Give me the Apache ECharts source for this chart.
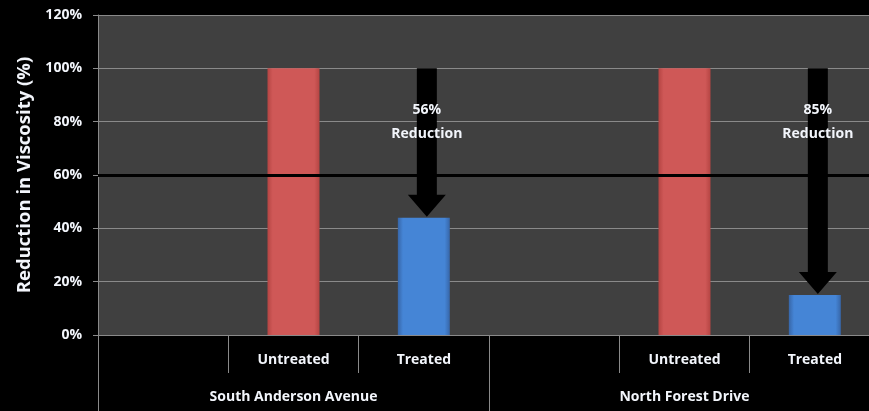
<!DOCTYPE html>
<html>
<head>
<meta charset="utf-8">
<script src="https://cdn.jsdelivr.net/npm/echarts@6/dist/echarts.min.js"></script>
<style>
html,body{margin:0;padding:0;background:#000;overflow:hidden;}
#chart{width:880px;height:411px;}
</style>
</head>
<body>
<div id="chart"></div>
<script>
var sites = ['South Anderson Avenue', 'North Forest Drive'];
var conditions = ['', 'Untreated', 'Treated'];
var untreatedValues = [100, 100];
var treatedValues = [44, 15];
var yTicks = [0, 20, 40, 60, 80, 100, 120];
var thresholdValue = 60;

var FONT = '"Open Sans", "Liberation Sans", sans-serif';
var TXT = '#f2f5fb';

var categories = [];
var barData = [];
var arrowData = [];
sites.forEach(function (s, i) {
  conditions.forEach(function (c) { categories.push(c); });
  barData.push(null);
  barData.push({ value: untreatedValues[i], itemStyle: { color: {
    type: 'linear', x: 0, y: 0, x2: 1, y2: 0,
    colorStops: [{offset:0,color:'#b54543'},{offset:0.1,color:'#cf5857'},{offset:0.9,color:'#cf5857'},{offset:1,color:'#b54543'}]
  } } });
  barData.push({ value: treatedValues[i], itemStyle: { color: {
    type: 'linear', x: 0, y: 0, x2: 1, y2: 0,
    colorStops: [{offset:0,color:'#3766a8'},{offset:0.1,color:'#4585d6'},{offset:0.9,color:'#4585d6'},{offset:1,color:'#3766a8'}]
  } } });
  arrowData.push([i * conditions.length + 2, untreatedValues[i], treatedValues[i],
    (untreatedValues[i] - treatedValues[i]) + '%\nReduction']);
});

var chart = echarts.init(document.getElementById('chart'));
chart.setOption({
  backgroundColor: '#000',
  animation: false,
  grid: { left: 98, right: 0, top: 15, bottom: 76, show: true, backgroundColor: '#404040', borderWidth: 0 },
  xAxis: [{
    type: 'category', data: categories, position: 'bottom',
    axisLine: { show: true, lineStyle: { color: '#8a8a8a', width: 1 } },
    axisTick: { show: true, length: 38, alignWithLabel: false, lineStyle: { color: '#8a8a8a' } },
    axisLabel: { color: TXT, fontFamily: FONT, fontWeight: 'bold', fontSize: 14, margin: 18, interval: 0 },
    splitLine: { show: false }
  }, {
    type: 'category', data: sites, position: 'bottom', gridIndex: 0,
    axisLine: { show: false },
    axisTick: { show: true, length: 76, lineStyle: { color: '#8a8a8a' } },
    axisLabel: { color: TXT, fontFamily: FONT, fontWeight: 'bold', fontSize: 14, margin: 55, interval: 0 },
    splitLine: { show: false }
  }],
  yAxis: {
    type: 'value', min: yTicks[0], max: yTicks[yTicks.length - 1], interval: 20,
    name: 'Reduction in Viscosity (%)', nameLocation: 'middle', nameGap: 61,
    nameTextStyle: { color: TXT, fontFamily: FONT, fontWeight: 'bold', fontSize: 18.5 },
    axisLine: { show: true, lineStyle: { color: '#8a8a8a' } },
    axisTick: { show: true, length: 5, lineStyle: { color: '#8a8a8a' } },
    axisLabel: { color: TXT, fontFamily: FONT, fontWeight: 'bold', fontSize: 14, margin: 16,
      formatter: function (v) { return v + '%'; } },
    splitLine: { show: true, lineStyle: { color: '#8a8a8a', width: 1 } }
  },
  series: [{
    type: 'bar', data: barData, barWidth: 52,
    markLine: {
      silent: true, symbol: ['none', 'none'], label: { show: false },
      lineStyle: { color: '#000', width: 3, type: 'solid' },
      data: [{ yAxis: thresholdValue }]
    },
    z: 2
  }, {
    type: 'custom', data: arrowData, z: 5,
    encode: { x: 0, y: [1, 2] },
    renderItem: function (params, api) {
      var top = api.coord([api.value(0), api.value(1)]);
      var bot = api.coord([api.value(0), api.value(2)]);
      var cx = top[0] + 3, y0 = top[1], y1 = bot[1] - 1;
      var sw = 10, hw = 19, hh = 22;
      var pts = [[cx - sw, y0], [cx + sw, y0], [cx + sw, y1 - hh], [cx + hw, y1 - hh],
                 [cx, y1], [cx - hw, y1 - hh], [cx - sw, y1 - hh]];
      return {
        type: 'group',
        children: [{
          type: 'polygon', shape: { points: pts }, style: { fill: '#000' }
        }, {
          type: 'text', x: cx, y: y0 + 54,
          style: { text: api.value(3), fill: TXT, font: 'bold 14px ' + FONT,
            align: 'center', verticalAlign: 'middle', lineHeight: 24 }
        }]
      };
    }
  }]
});
</script>
</body>
</html>
